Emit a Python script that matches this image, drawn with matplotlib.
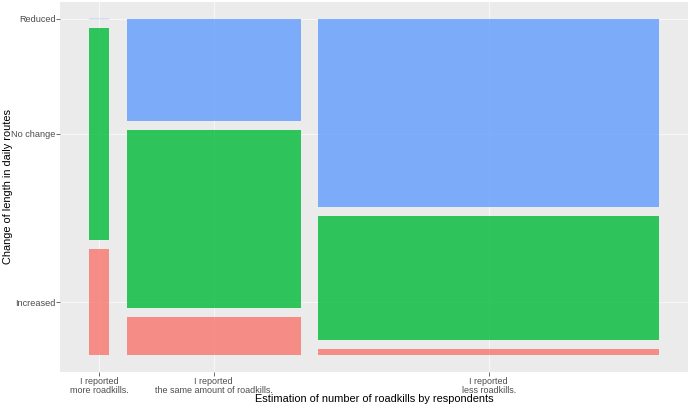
import matplotlib

matplotlib.use("Agg")
import matplotlib.pyplot as plt
from matplotlib.patches import Rectangle

# respondents' estimate (x) by change in route length (y)
ESTIMATES = ["I reported\nmore roadkills.",
             "I reported\nthe same amount of roadkills.",
             "I reported\nless roadkills."]
CHANGES = ["Increased", "No change", "Reduced"]
COUNTS = {  # per estimate: increased, no change, reduced
    ESTIMATES[0]: [1, 2, 0],
    ESTIMATES[1]: [3, 14, 8],
    ESTIMATES[2]: [1, 19, 29],
}
COLORS = {"Increased": "#F8766D", "No change": "#00BA38", "Reduced": "#619CFF"}

XGAP = 0.03
YGAP = 0.027

plt.rcParams["font.family"] = ["Liberation Sans", "DejaVu Sans"]

fig = plt.figure(figsize=(6.91, 4.07), dpi=100)
ax = fig.add_axes([60 / 691, (407 - 372) / 407, 628 / 691, 370 / 407])
ax.set_facecolor("#EBEBEB")

total = sum(sum(v) for v in COUNTS.values())
xscale = 1 - XGAP * (len(ESTIMATES) - 1)
yscale = 1 - YGAP * (len(CHANGES) - 1)

x0 = 0.0
xticks, yticks = [], None
for est in ESTIMATES:
    vals = COUNTS[est]
    n = sum(vals)
    w = xscale * n / total
    y0 = 0.0
    centers = []
    for ch, v in zip(CHANGES, vals):
        h = yscale * v / n
        ax.add_patch(Rectangle((x0, y0), w, h, facecolor=COLORS[ch], alpha=0.8,
                               edgecolor=COLORS[ch] if v == 0 else "none",
                               linewidth=0.3 if v == 0 else 0, zorder=2))
        centers.append(y0 + h / 2)
        y0 += h + YGAP
    if yticks is None:
        yticks = centers
    xticks.append(x0 + w / 2)
    x0 += w + XGAP

ax.set_xlim(-0.05, 1.05)
ax.set_ylim(-0.05, 1.05)
ax.set_xticks(xticks)
ax.set_xticklabels(ESTIMATES, fontsize=6.5, color="#4D4D4D", linespacing=0.95)
ax.set_yticks(yticks)
ax.set_yticklabels(CHANGES, fontsize=6.6, color="#4D4D4D")
ax.tick_params(length=2.7, width=0.5, color="#333333")
ax.tick_params(axis="x", pad=1)
ax.tick_params(axis="y", pad=0.5)
ax.grid(True, color="white", linewidth=0.45, zorder=0)
ax.set_axisbelow(True)
for s in ax.spines.values():
    s.set_visible(False)

fig.text(374 / 691, (407 - 399.5) / 407, "Estimation of number of roadkills by respondents",
         fontsize=7.9, ha="center", va="center")
fig.text(8 / 691, (407 - 187) / 407, "Change of length in daily routes",
         fontsize=7.9, ha="center", va="center", rotation=90)

fig.savefig("out.png", dpi=100)
